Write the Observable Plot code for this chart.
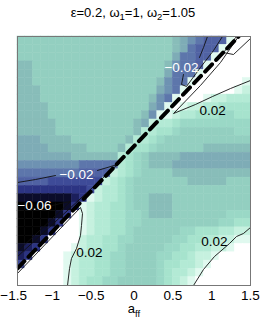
<!DOCTYPE html>
<html><head><meta charset="utf-8">
<script src="https://cdn.jsdelivr.net/npm/d3@7"></script>
<script src="https://cdn.jsdelivr.net/npm/@observablehq/plot@0.6"></script>
<style>
html,body{margin:0;padding:0;background:#fff;overflow:hidden;}
#title{width:266px;height:26px;line-height:26px;text-align:center;font-family:"Liberation Sans",Arial,sans-serif;font-size:13px;color:#000;}
#title sub{font-size:9.5px;vertical-align:-3px;line-height:0;}
#chart svg{display:block;}
</style></head><body>
<div id="title">ε=0.2, ω<sub>1</sub>=1, ω<sub>2</sub>=1.05</div>
<div id="chart"></div>
<script>
// ---- data ----
const xMin = -1.5, xMax = 1.5, yMin = -1.5, yMax = 1.5;
const xTicksNeg = [-1.5, -1, -0.5];
const xTicksPos = [0, 0.5, 1, 1.5];
// level codes -> values
const levelCodes = "0123456789abcdefg";
const levelValues = [-0.07, -0.06, -0.05, -0.04, -0.03, -0.022, -0.016, -0.011, -0.006, -0.003, 0, 0.003, 0.008, 0.012, 0.017, 0.023, 0.032];
const levelColors = ["#000000", "#0b0c2a", "#1b1f5c", "#2c3483", "#3e4b98", "#5062a3", "#5d76ab", "#6e92b2", "#7eacb6", "#88bdb9", "#93cfc0", "#9ad8c6", "#a6e3cd", "#b3ead5", "#c6f1df", "#e0f9ef", "#ffffff"];
// grid rows, top to bottom, 30 columns each
const grid = [
"aaaaaaaaaaaaaaaaaaaa9876555fgg",
"aaaaaaaaaaaaaaaaaaaa986555fggg",
"aaaaaaaaaaaaaaaaaaaa86655fgggg",
"99aaaaaaaaaaaaaaaaa97665fggggg",
"99aaaaaaaaaaaaaaaaa8666fgggggg",
"99aaaaaaaaaaaaaaaa9766fggggggf",
"999aaaaaaaaaaaaaaa876fggggggfe",
"999aaaaaaaaaaaaaa976fgggfeeddd",
"9999aaaaaaaaaaaaa87fgfeeddcccc",
"9999aaaaaaaaaaaa97ffeddcccbbcc",
"99999aaaaaaaaaa98eddcbbbbbbbbb",
"99999aaaaaaaaaa9ddccbaaaaaaabb",
"8889999aaaaaaa9ddcbaaaaaaaaaaa",
"888899999aaaa9dccbaaaaaa999999",
"8888888999999dcba9999888888888",
"7777777766666dcba9998888888888",
"666666665555edcbaaaa9999999999",
"55554444444edcbaaaaaaa99999aaa",
"3333333334eddcbaaaaaaaaaaaaaaa",
"111111123feddcbaa999aaaaaaaaaa",
"00000013feddccbaa999aaaaaaaaaa",
"0000013gfeddccbba999aaaaaaabbb",
"000013ggfeddccbbaaaaaaaaaabbcc",
"00013gggfeddccbaaaaaabbcccddee",
"0013ggggeddccbbaaaaabbccddeeff",
"123ggggfeddccbaaaaabbccddeefgg",
"23ggggfeddccbbaaaabbccdeefgggg",
"4gggggfeddccbbaaaabccddefggggg",
"ggggggfeddccbbaaaabcddefgggggg",
"ggggggfedccbbaaaaabcdefggggggg"
];
// dashed diagonal
const dashX = [-1.5, 1.346];
const dashY = [-1.295, 1.5];
// contour lines (data coordinates)
const cNeg02LowAX = [-1.5, -1.268, -1.011];
const cNeg02LowAY = [-0.259, -0.223, -0.175];
const cNeg02LowBX = [-0.47, -0.212, -1.5];
const cNeg02LowBY = [-0.114, -0.042, -1.151];
const cNeg06X = [-1.05, -0.946, -0.818, -1.5];
const cNeg06Y = [-0.536, -0.512, -0.488, -1.09];
const cPos02LowX = [-1.5, -0.689, -0.663, -0.676, -0.689, -0.740, -0.805, -0.830, -0.856];
const cPos02LowY = [-1.355, -0.56, -0.633, -0.777, -0.898, -1.054, -1.175, -1.295, -1.5];
const cNeg02UpAX = [0.946, 0.895, 0.843];
const cNeg02UpAY = [1.5, 1.367, 1.247];
const cNeg02UpBX = [0.637, 0.612, 0.676, 0.856, 1.024, 1.139];
const cNeg02UpBY = [1.042, 0.922, 0.898, 1.127, 1.331, 1.5];
const cPos02UpX = [1.5, 1.242, 1.011, 0.792, 0.509, 0.856, 1.114, 1.346];
const cPos02UpY = [0.970, 0.873, 0.777, 0.681, 0.572, 0.910, 1.187, 1.5];
const cTopX = [1.320, 1.152, 1.281, 1.5];
const cTopY = [1.5, 1.307, 1.283, 1.476];
const cPos02RightX = [1.5, 1.410, 1.320, 1.230, 1.036, 0.895, 0.766];
const cPos02RightY = [-0.801, -0.873, -0.910, -0.994, -1.151, -1.307, -1.5];
// contour labels
const negLabelX = [-0.740, -1.281, 0.612];
const negLabelY = [-0.163, -0.536, 1.127];
const negLabelT = ["−0.02", "−0.06", "−0.02"];
const posLabelX = [-0.573, 1.011, 1.036];
const posLabelY = [-1.102, 0.608, -0.970];
const posLabelT = ["0.02", "0.02", "0.02"];

// ---- build tables ----
const nCols = 30, nRows = grid.length;
const cw = (xMax - xMin) / nCols, ch = (yMax - yMin) / nRows;
const cells = [];
grid.forEach((row, r) => {
  const s = row.padEnd(nCols, row[row.length - 1]).slice(0, nCols);
  [...s].forEach((code, c) => {
    cells.push({x1: xMin + c * cw, x2: xMin + (c + 1) * cw, y1: yMax - r * ch, y2: yMax - (r + 1) * ch, v: levelValues[levelCodes.indexOf(code)]});
  });
});
const pts = (xs, ys) => xs.map((x, i) => ({x, y: ys[i]}));
const contours = [
  pts(cNeg02LowAX, cNeg02LowAY), pts(cNeg02LowBX, cNeg02LowBY), pts(cNeg06X, cNeg06Y),
  pts(cPos02LowX, cPos02LowY), pts(cNeg02UpAX, cNeg02UpAY), pts(cNeg02UpBX, cNeg02UpBY),
  pts(cPos02UpX, cPos02UpY), pts(cTopX, cTopY), pts(cPos02RightX, cPos02RightY)
];
const dash = pts(dashX, dashY);
const negLabels = negLabelX.map((x, i) => ({x, y: negLabelY[i], t: negLabelT[i]}));
const posLabels = posLabelX.map((x, i) => ({x, y: posLabelY[i], t: posLabelT[i]}));
const fmt = d => d < 0 ? "−" + Math.abs(d) : String(d);

const plot = Plot.plot({
  width: 266, height: 299,
  marginLeft: 17, marginRight: 16, marginTop: 10, marginBottom: 40,
  style: {fontFamily: '"Liberation Sans", Arial, sans-serif', fontSize: "13.5px", background: "#fff", color: "#000"},
  x: {domain: [xMin, xMax], label: null},
  y: {domain: [yMin, yMax], axis: null, label: null},
  color: {type: "linear", domain: levelValues, range: levelColors, interpolate: "rgb"},
  marks: [
    Plot.rect(cells, {x1: "x1", x2: "x2", y1: "y1", y2: "y2", fill: "v", stroke: "v", strokeWidth: 0.5}),
    ...contours.map(p => Plot.line(p, {x: "x", y: "y", stroke: "#111", strokeWidth: 0.9, clip: true})),
    Plot.line(dash, {x: "x", y: "y", stroke: "#000", strokeWidth: 4, strokeDasharray: "10,6", clip: true}),
    Plot.text(negLabels, {x: "x", y: "y", text: "t", fill: "#fff", fontSize: 13.5}),
    Plot.text(posLabels, {x: "x", y: "y", text: "t", fill: "#000", fontSize: 13.5}),
    Plot.frame({stroke: "#777", strokeWidth: 1}),
    Plot.axisX(xTicksNeg, {tickSize: 0, tickPadding: 5, dx: -3.9, tickFormat: fmt, label: null, fontSize: 13.5}),
    Plot.axisX(xTicksPos, {tickSize: 0, tickPadding: 5, tickFormat: fmt, label: null, fontSize: 13.5})
  ]
});
document.getElementById("chart").appendChild(plot);
const svg = d3.select(plot);
const xs = plot.scale("x");
const t = svg.append("text")
  .attr("x", xs.apply(0) + 0.5).attr("y", 287)
  .attr("text-anchor", "middle")
  .attr("font-family", '"Liberation Sans", Arial, sans-serif')
  .attr("font-size", 13).attr("fill", "#000");
t.append("tspan").text("a");
t.append("tspan").attr("font-size", 9.5).attr("dy", 4).text("ff");
</script></body></html>
